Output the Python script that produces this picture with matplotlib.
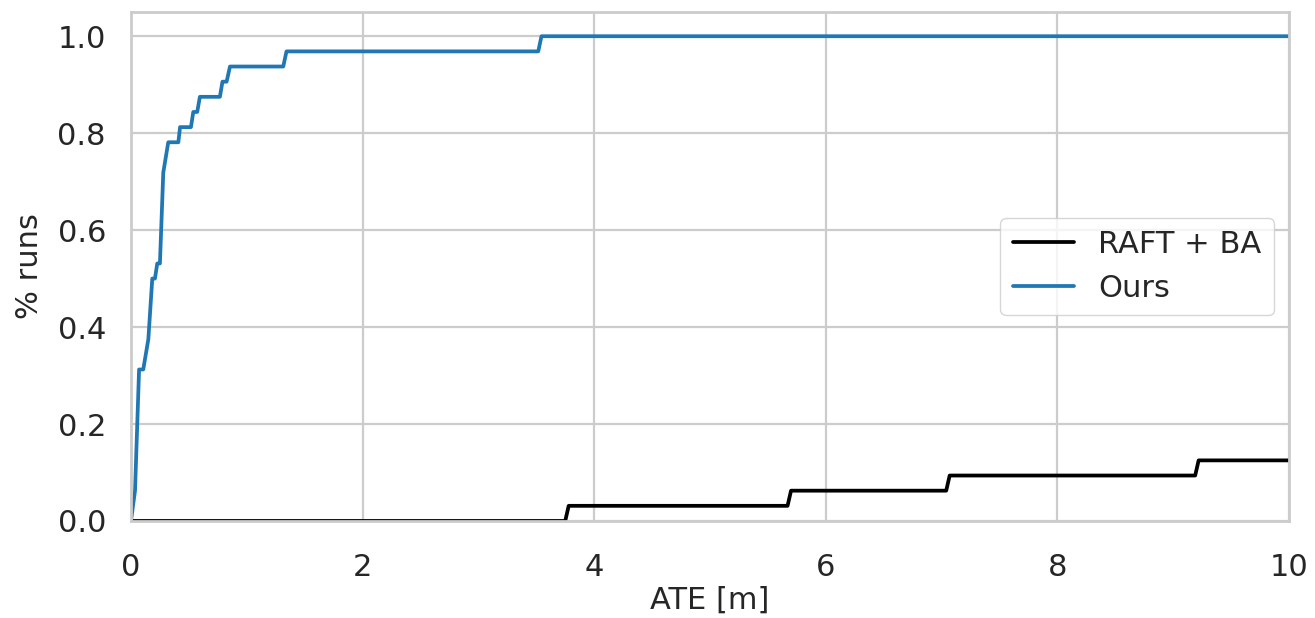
import numpy as np
import matplotlib
matplotlib.use("Agg")
import matplotlib.pyplot as plt
import seaborn as sns

sns.set_theme(style="whitegrid")
plt.rcParams['font.family'] = ['DejaVu Sans']

# vertices of the cumulative curves (ATE in m, fraction of runs)
ours_x = [0.0, 0.035, 0.07, 0.106, 0.15, 0.184, 0.207, 0.227, 0.25, 0.279, 0.322,
          0.409, 0.424, 0.518, 0.538, 0.572, 0.595, 0.768, 0.79, 0.826, 0.855,
          1.315, 1.343, 3.517, 3.545, 10.0]
ours_y = [0.0, 0.0625, 0.3125, 0.3125, 0.375, 0.5, 0.5, 0.53125, 0.53125, 0.71875, 0.78125,
          0.78125, 0.8125, 0.8125, 0.84375, 0.84375, 0.875, 0.875, 0.90625, 0.90625, 0.9375,
          0.9375, 0.96875, 0.96875, 1.0, 1.0]

raft_x = [0.0, 3.75, 3.78, 5.67, 5.70, 7.04, 7.07, 9.19, 9.22, 10.0]
raft_y = [0.0, 0.0, 0.03125, 0.03125, 0.0625, 0.0625, 0.09375, 0.09375, 0.125, 0.125]

fs = 22
txt = "#262626"

fig = plt.figure(figsize=(13.15, 6.18), dpi=100)
ax = fig.add_axes([0.0996, 0.157, 0.8806, 0.8236])

ax.plot(raft_x, raft_y, color="black", lw=2.7, label="RAFT + BA")
ax.plot(ours_x, ours_y, color="#1f77b4", lw=2.7, label="Ours")

ax.set_xlim(0, 10)
ax.set_ylim(0, 1.05)
ax.set_yticks([0.0, 0.2, 0.4, 0.6, 0.8, 1.0])
ax.set_xticks([0, 2, 4, 6, 8, 10])
ax.tick_params(axis="y", labelsize=fs, colors=txt, pad=12)
ax.tick_params(axis="x", labelsize=fs, colors=txt, pad=17)
ax.set_xlabel("ATE [m]", fontsize=fs, color=txt, labelpad=3)
ax.set_ylabel("% runs", fontsize=fs, color=txt, labelpad=10)
ax.grid(True, color="#cccccc", lw=1.6)
for s in ax.spines.values():
    s.set_color("#cccccc")
    s.set_linewidth(2)

ax.legend(loc="center right", fontsize=fs, frameon=True,
          handlelength=2.0, handletextpad=0.8, edgecolor="#cccccc")

fig.savefig("out.png", dpi=100)
